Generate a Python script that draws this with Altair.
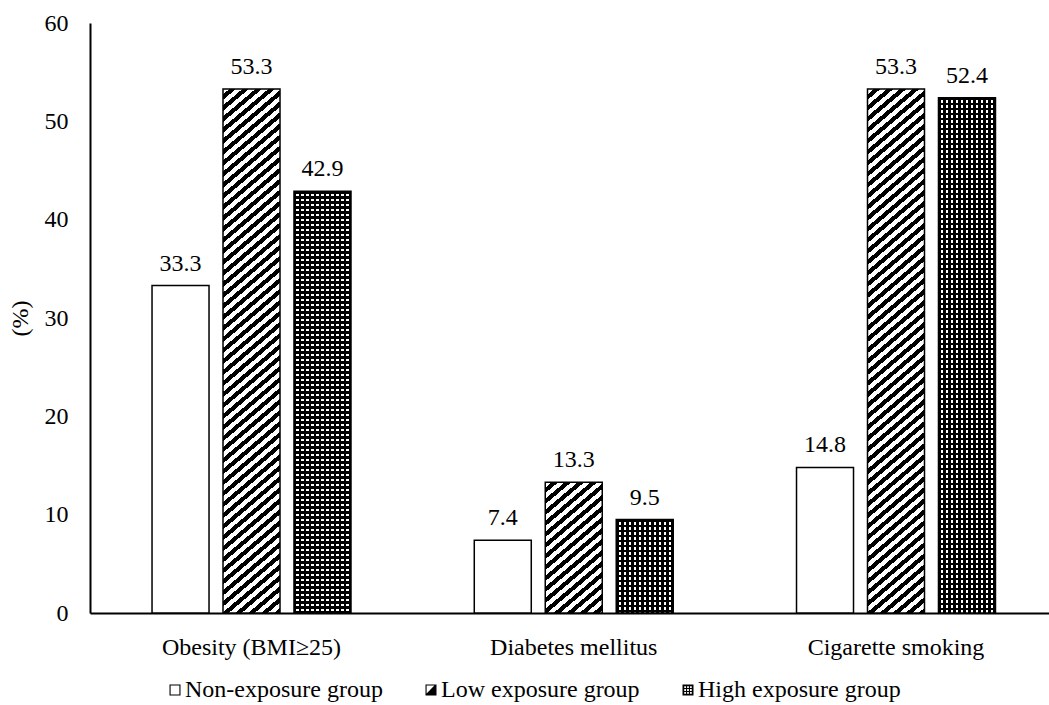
import altair as alt
import pandas as pd

# ---- data -------------------------------------------------------------
categories = ["Obesity (BMI≥25)", "Diabetes mellitus", "Cigarette smoking"]
groups = ["Non-exposure group", "Low exposure group", "High exposure group"]
non_exposure = [33.3, 7.4, 14.8]
low_exposure = [53.3, 13.3, 53.3]
high_exposure = [42.9, 9.5, 52.4]
y_ticks = [0, 10, 20, 30, 40, 50, 60]

# ---- layout / style ---------------------------------------------------
FONT = "Liberation Serif"
FS = 24
PLOT_W, PLOT_H = 959, 590
Y_MAX = 60
BAR_W = 57.0  # width of one bar as produced by the band scales below

rows = []
for series, values in zip(groups, [non_exposure, low_exposure, high_exposure]):
    for cat, v in zip(categories, values):
        rows.append({"category": cat, "group": series, "value": v})
df = pd.DataFrame(rows)


def bar_height(value):
    return value / Y_MAX * PLOT_H


def diagonal_stripes(value, pitch=13.0, ink=0.5, k=1.18):
    """Rising diagonal hatch as a hard-stop linear gradient (bbox units)."""
    h = bar_height(value)
    span = BAR_W + k * h
    c = span / (BAR_W ** 2 + (k * h) ** 2)
    period = pitch / span
    stops = []
    i = 0
    while i * period < 1:
        a = i * period
        b = a + period * (1 - ink)
        e = a + period
        for off, col in [(a, "white"), (b, "white"), (b, "black"), (e, "black")]:
            if off <= 1:
                stops.append({"offset": round(off, 6), "color": col})
        i += 1
    return {"gradient": "linear", "x1": 0, "y1": 0,
            "x2": round(c * BAR_W, 6), "y2": round(c * k * h, 6), "stops": stops}


def line_grid(length_px, along_x, gap_color, pitch=5.0, ink=0.5):
    """Evenly spaced black lines across a bar (one direction of a check)."""
    period = pitch / length_px
    stops = []
    i = 0
    while i * period < 1:
        a = i * period
        b = a + period * ink
        e = a + period
        for off, col in [(a, "black"), (b, "black"), (b, gap_color), (e, gap_color)]:
            if off <= 1:
                stops.append({"offset": round(off, 6), "color": col})
        i += 1
    if along_x:
        return {"gradient": "linear", "x1": 0, "y1": 0, "x2": 1, "y2": 0, "stops": stops}
    return {"gradient": "linear", "x1": 0, "y1": 0, "x2": 0, "y2": 1, "stops": stops}


# legend symbols: custom paths in the [-1, 1] symbol space
def hole(x0, y0, x1, y1):
    return f"M{x0},{y0}V{y1}H{x1}V{y0}Z"


FRAME = "M-1,-1H1V1H-1Z"
sym_non = FRAME + " " + hole(-0.8, -0.8, 0.8, 0.8)
sym_low = FRAME + " M-0.8,-0.8V0.62L0.62,-0.8Z"
check_holes = []
for cy in (-0.52, 0.0, 0.52):
    for cx in (-0.52, 0.0, 0.52):
        check_holes.append(hole(cx - 0.16, cy - 0.16, cx + 0.16, cy + 0.16))
sym_high = FRAME + " " + " ".join(check_holes)

# ---- encodings --------------------------------------------------------
x_enc = alt.X(
    "category:N", sort=categories,
    scale=alt.Scale(domain=categories, paddingInner=0.0504, paddingOuter=0.0132, align=1),
    axis=alt.Axis(title=None, labelAngle=0, ticks=False, domainColor="black", domainWidth=2,
                  labelFont=FONT, labelFontSize=FS, labelColor="black", labelPadding=22),
)
xo_enc = alt.XOffset("group:N", sort=groups,
                     scale=alt.Scale(domain=groups, paddingInner=0.197, paddingOuter=0.754))
y_enc = alt.Y(
    "value:Q", scale=alt.Scale(domain=[0, Y_MAX], nice=False),
    axis=alt.Axis(values=y_ticks, title="(%)", grid=False, ticks=False, domainColor="black",
                  domainWidth=2, labelFont=FONT, labelFontSize=FS, labelColor="black",
                  labelPadding=22, titleFont=FONT, titleFontSize=FS, titleFontWeight="normal",
                  titleColor="black", titlePadding=12),
)

base = alt.Chart(df).encode(x=x_enc, xOffset=xo_enc, y=y_enc)

layers = [
    base.transform_filter(alt.datum.group == groups[0])
        .mark_bar(fill="white", stroke="black", strokeWidth=1.5)
]

for cat, v in zip(categories, low_exposure):
    layers.append(
        base.transform_filter((alt.datum.group == groups[1]) & (alt.datum.category == cat))
            .mark_bar(fill=diagonal_stripes(v), stroke="black", strokeWidth=1.5)
    )

for cat, v in zip(categories, high_exposure):
    sel = base.transform_filter((alt.datum.group == groups[2]) & (alt.datum.category == cat))
    layers.append(sel.mark_bar(fill=line_grid(bar_height(v), False, "white"), strokeWidth=0))
    layers.append(sel.mark_bar(fill=line_grid(BAR_W, True, "rgba(255,255,255,0)"),
                               stroke="black", strokeWidth=1.5))

labels = base.mark_text(baseline="alphabetic", dy=-15, font=FONT, fontSize=FS, color="black").encode(
    text=alt.Text("value:Q", format=".1f")
)
layers.append(labels)

legend_marks = base.mark_point(filled=True, size=0, color="black", opacity=1).encode(
    shape=alt.Shape(
        "group:N", sort=groups,
        scale=alt.Scale(domain=groups, range=[sym_non, sym_low, sym_high]),
        legend=alt.Legend(title=None, orient="none", legendX=73, legendY=655,
                          direction="horizontal", columns=3, columnPadding=36,
                          labelOffset=alt.ExprRef(expr="-2"), labelLimit=400,
                          symbolSize=121, symbolStrokeWidth=0,
                          symbolFillColor="black", labelFont=FONT, labelFontSize=FS,
                          labelColor="black"),
    )
)
layers.append(legend_marks)

chart = (
    alt.layer(*layers)
    .properties(width=PLOT_W, height=PLOT_H,
                padding={"left": 90, "top": 23, "right": 0, "bottom": 92},
                autosize=alt.AutoSizeParams(type="none"), background="white")
    .configure_view(stroke=None)
)

chart.save("out.html", embed_options={"renderer": "svg", "actions": False})
